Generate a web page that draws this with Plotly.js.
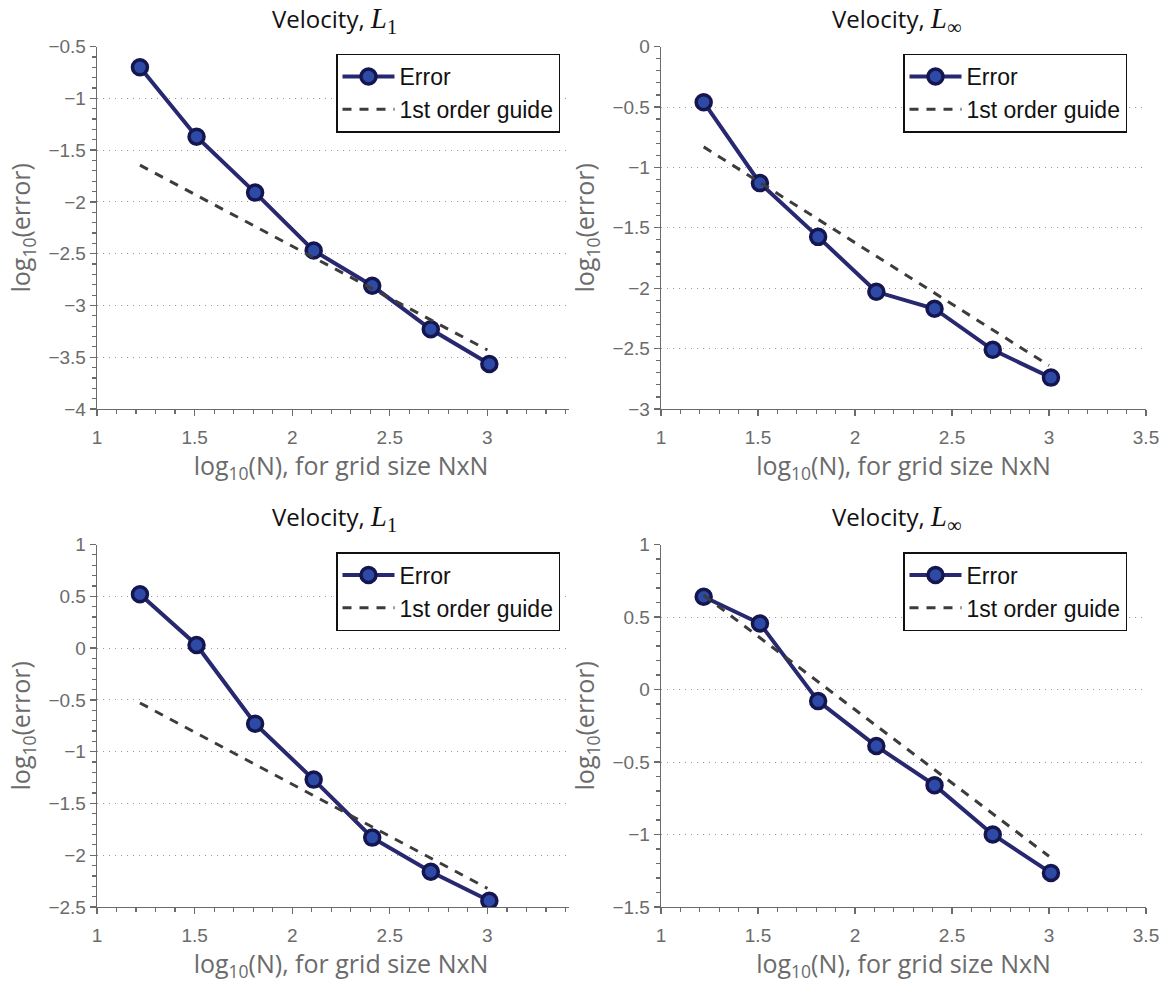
<!DOCTYPE html>
<html>
<head>
<meta charset="utf-8">
<script src="https://cdn.plot.ly/plotly-3.0.1.min.js"></script>
<style>html,body{margin:0;padding:0;background:#fff;}#chart{width:1170px;height:986px;}</style>
</head>
<body>
<div id="chart"></div>
<script>
// log10(N) for the grid sizes
const logN = [1.22, 1.51, 1.81, 2.11, 2.41, 2.71, 3.01];
const guideX = [1.22, 3.0];

// top-left: Velocity, L1
const errL1Top = [-0.70, -1.37, -1.91, -2.47, -2.81, -3.23, -3.565];
const guideL1Top = [-1.645, -3.43];
// top-right: Velocity, Linf
const errLinfTop = [-0.46, -1.13, -1.575, -2.03, -2.17, -2.51, -2.74];
const guideLinfTop = [-0.83, -2.64];
// bottom-left: Velocity, L1
const errL1Bot = [0.52, 0.03, -0.73, -1.27, -1.83, -2.16, -2.44];
const guideL1Bot = [-0.53, -2.32];
// bottom-right: Velocity, Linf
const errLinfBot = [0.64, 0.455, -0.08, -0.39, -0.66, -1.00, -1.265];
const guideLinfBot = [0.65, -1.15];

const seriesNames = ['Error', '1st order guide'];
const normNames = ['1', '∞', '1', '∞'];
const mathL = sub => 'Velocity, <span style="font-family:\'Liberation Serif\',serif;font-style:italic;font-size:29px">L</span>' +
  '<span style="font-family:\'Liberation Serif\',serif;font-size:29px"><sub>' + sub + '</sub></span>';
const panelTitles = normNames.map(mathL);
const xTitle = 'log<sub>10</sub>(N), for grid size NxN';
const yTitle = 'log<sub>10</sub>(error)';
const yRanges = [[-4, -0.5], [-3, 0], [-2.5, 1], [-1.5, 1]];
const xRange = [1, 3.5];

const W = 1170, H = 986;
const px = v => v / W, py = v => 1 - v / H;
const xDomains = [[px(97), px(585)], [px(661), px(1146)]];
const yDomains = [[py(409), py(46.6)], [py(907), py(544.5)]];
const titleTop = [0, 498];
const legendTop = [53.5, 552];

const errs = [errL1Top, errLinfTop, errL1Bot, errLinfBot];
const guides = [guideL1Top, guideLinfTop, guideL1Bot, guideLinfBot];

const traces = [];
const layout = {
  width: W, height: H,
  margin: {l: 0, r: 0, t: 0, b: 0},
  paper_bgcolor: '#fff', plot_bgcolor: 'rgba(0,0,0,0)',
  showlegend: true,
  font: {family: 'Liberation Sans, Arial, sans-serif', color: '#666'},
  annotations: [], shapes: []
};

const gray = '#6b6b6b';
const titleFont = 'Open Sans, sans-serif';
for (let i = 0; i < 4; i++) {
  const col = i % 2, row = Math.floor(i / 2);
  const sfx = i === 0 ? '' : String(i + 1);
  const legName = 'legend' + sfx;
  traces.push({
    x: logN, y: errs[i], xaxis: 'x' + sfx, yaxis: 'y' + sfx,
    mode: 'lines+markers', name: seriesNames[0], legend: legName,
    line: {color: '#27286f', width: 4},
    marker: {symbol: 'circle', size: 15, color: '#2d4aa6', line: {color: '#15164f', width: 3.5}}
  });
  traces.push({
    x: guideX, y: guides[i], xaxis: 'x' + sfx, yaxis: 'y' + sfx,
    mode: 'lines', name: seriesNames[1], legend: legName,
    line: {color: '#3c3c3c', width: 3, dash: '9px,8px'}
  });
  const ax = {
    domain: xDomains[col], range: xRange, anchor: 'y' + sfx,
    dtick: 0.5, tick0: 1, ticks: 'outside', ticklen: 6, tickwidth: 1.3, tickcolor: gray,
    ticklabelstandoff: 5,
    showline: true, linecolor: gray, linewidth: 1.3, mirror: false,
    showgrid: false, zeroline: false,
    minor: {dtick: 0.1, tick0: 1, ticks: 'outside', ticklen: 4, tickwidth: 1.2, tickcolor: gray, showgrid: false},
    tickfont: {size: 19, color: gray, family: 'Liberation Sans, Arial, sans-serif'},
    title: {text: xTitle, font: {size: 25, color: gray, family: titleFont}, standoff: 0},
    automargin: false
  };
  const ay = {
    domain: yDomains[row], range: yRanges[i], anchor: 'x' + sfx,
    dtick: 0.5, ticks: 'outside', ticklen: 6, tickwidth: 1.3, tickcolor: gray,
    showline: true, linecolor: gray, linewidth: 1.3, mirror: false,
    showgrid: true, gridcolor: '#9a9a9a', gridwidth: 1, griddash: '1px,5px', zeroline: false,
    minor: {dtick: 0.1, ticks: 'outside', ticklen: 4, tickwidth: 1.2, tickcolor: gray, showgrid: false},
    tickfont: {size: 19, color: gray, family: 'Liberation Sans, Arial, sans-serif'},
    title: {text: yTitle, font: {size: 25, color: gray, family: titleFont}, standoff: 10},
    automargin: false
  };
  layout['xaxis' + sfx] = ax;
  layout['yaxis' + sfx] = ay;
  layout[legName] = {
    x: col === 0 ? px(336) : px(903), xanchor: 'left',
    y: py(legendTop[row]), yanchor: 'top',
    bgcolor: '#fff', bordercolor: '#111', borderwidth: 1.5,
    font: {size: 23, color: '#111', family: 'Liberation Sans, Arial, sans-serif'},
    tracegroupgap: 0, itemwidth: 52
  };
  layout.annotations.push({
    text: panelTitles[i], xref: 'paper', yref: 'paper',
    x: (xDomains[col][0] + xDomains[col][1]) / 2 - px(7), y: py(titleTop[row]),
    xanchor: 'center', yanchor: 'top', showarrow: false,
    font: {size: 24, color: '#111', family: titleFont}
  });
}
// the left panels are cut off at their right edge in the original figure
[[0, 455], [500, 955]].forEach(r => {
  layout.shapes.push({type: 'rect', xref: 'paper', yref: 'paper', layer: 'above',
    x0: px(569), x1: px(606), y0: py(r[1]), y1: py(r[0]),
    fillcolor: '#fff', line: {width: 0}});
});

Plotly.newPlot('chart', traces, layout, {displayModeBar: false, staticPlot: true});
</script>
</body>
</html>
